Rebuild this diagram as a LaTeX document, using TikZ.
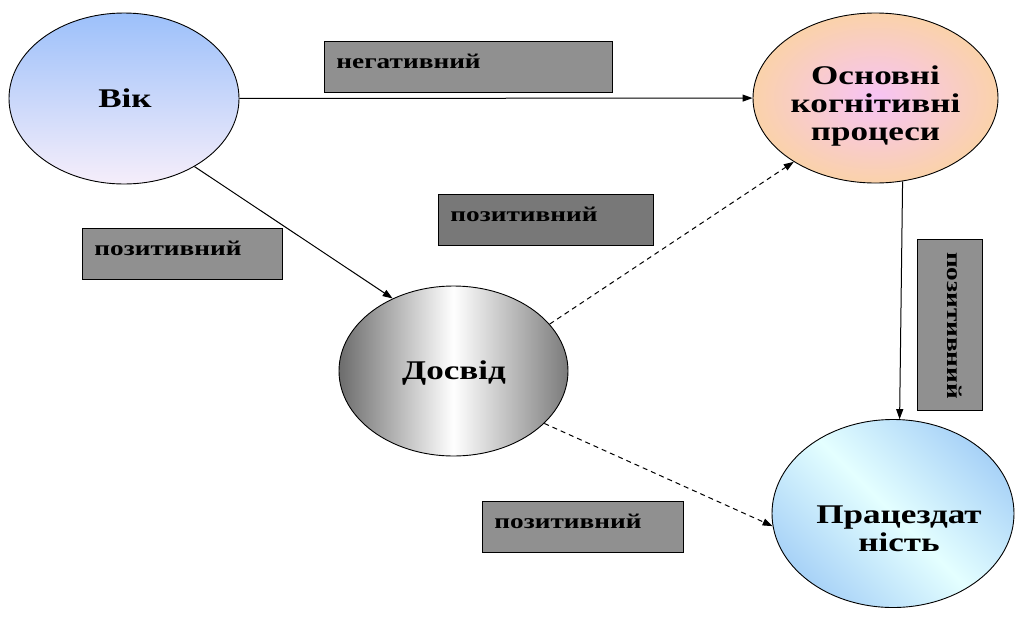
\documentclass[tikz,border=0pt]{standalone}
\usepackage{fontspec}
\setmainfont{Liberation Serif}[FakeStretch=1.3]
\usetikzlibrary{shapes.geometric, arrows.meta, positioning}
\definecolor{vikblue}{RGB}{156,192,250}
\definecolor{vikpale}{RGB}{246,238,250}
\definecolor{osnpeach}{RGB}{250,210,170}
\definecolor{osnpink}{RGB}{247,195,245}
\definecolor{dosgray}{RGB}{108,108,108}
\definecolor{pracblue}{RGB}{168,210,247}
\definecolor{praclight}{RGB}{228,255,255}
\definecolor{boxgray}{RGB}{144,144,144}
\definecolor{boxdark}{RGB}{120,120,120}

\begin{document}
\begin{tikzpicture}[x=1pt, y=-1pt,
  oval/.style={draw, ellipse, inner sep=0pt, line width=0.9pt},
  bigtext/.style={align=center, inner sep=0pt, font=\bfseries\fontsize{27}{28}\selectfont},
  tag/.style={draw, fill=boxgray, line width=0.9pt, inner xsep=12pt, align=left, minimum height=51pt, text height=14pt, text depth=10pt, font=\bfseries\fontsize{21}{24}\selectfont},
  arr/.style={-{Triangle[length=10pt, width=7pt]}, line width=1pt},
  dasharr/.style={arr, dash pattern=on 5pt off 4pt}
]
  \useasboundingbox (0,0) rectangle (1017,619);

  \node[oval, minimum width=230pt, minimum height=171pt, top color=vikblue, bottom color=vikpale] (vik) at (124,98.5) {};
  \node[oval, minimum width=245pt, minimum height=170pt, inner color=osnpink, outer color=osnpeach] (osn) at (875.5,98) {};
  \node[oval, minimum width=229pt, minimum height=170pt, left color=dosgray, right color=dosgray!90, middle color=white] (dos) at (453.5,371) {};
  \node[oval, minimum width=242pt, minimum height=188pt, top color=pracblue, bottom color=pracblue, middle color=praclight, shading angle=-45] (prac) at (893,513.5) {};

  \node[bigtext] (vik-t) at (125,98) {Вік};
  \node[bigtext] (osn-t) at (875.5,106) {Основні\\когнітивні\\процеси};
  \node[bigtext] (dos-t) at (454,373) {Досвід};
  \node[bigtext] (prac-t) at (899,529) {Працездат\\ність};

  \node[tag, anchor=north west, text width=264pt] (neg) at (324,41) {негативний};
  \node[tag, anchor=north west, text width=191pt, fill=boxdark] (pos-mid) at (438,194) {позитивний};
  \node[tag, anchor=north west, text width=176pt] (pos-left) at (82,228) {позитивний};
  \node[tag, anchor=north west, text width=177pt] (pos-low) at (482,501) {позитивний};
  \node[tag, rotate=-90, inner xsep=13pt, text width=145pt, minimum height=65pt] (pos-side) at (949.5,324.5) {позитивний};

  \draw[arr] (vik) -- (osn);
  \draw[arr] (vik.-44) -- (dos.130);
  \draw[dasharr] (dos.26) -- (osn.218);
  \draw[dasharr] (dos.-30) -- (prac.-174);
  \draw[arr] (osn.-72) -- (prac.86);
\end{tikzpicture}
\end{document}
